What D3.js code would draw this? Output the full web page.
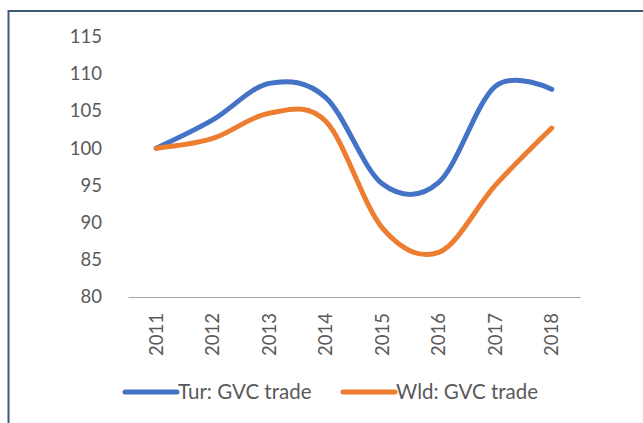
<!DOCTYPE html>
<html><head><meta charset="utf-8">
<script src="https://cdnjs.cloudflare.com/ajax/libs/d3/7.8.5/d3.min.js"></script>
<style>
html,body{margin:0;padding:0;background:#fff;}
svg{display:block;}
</style></head>
<body>
<script>
const years = ["2011","2012","2013","2014","2015","2016","2017","2018"];
const turValues = [100, 103.8, 108.7, 106.8, 95.2, 95.4, 108.3, 107.9];
const wldValues = [100, 101.3, 104.7, 103.6, 89.3, 86.0, 95.0, 102.7];
const yTicks = [80, 85, 90, 95, 100, 105, 110, 115];
const seriesNames = ["Tur: GVC trade", "Wld: GVC trade"];
const seriesColors = ["#4472C4", "#ED7D31"];

const W = 643, H = 423;
const svg = d3.select("body").append("svg").attr("width", W).attr("height", H);

// frame border (top and left visible)
svg.append("line").attr("x1", 8.5).attr("x2", W).attr("y1", 11).attr("y2", 11)
  .attr("stroke", "#3d5a73").attr("stroke-width", 2);
svg.append("line").attr("x1", 8.5).attr("x2", 8.5).attr("y1", 10).attr("y2", H)
  .attr("stroke", "#3d5a73").attr("stroke-width", 2);

const x = d3.scaleBand().domain(years).range([128, 580]);
const y = d3.scaleLinear().domain([80, 115]).range([297, 36.5]);
const font = "Lato, 'Open Sans', sans-serif";

// y tick labels
const yAxis = d3.axisLeft(y).tickValues(yTicks).tickSize(0).tickPadding(0);
const gy = svg.append("g").attr("transform", "translate(102,0)").call(yAxis);
gy.select(".domain").remove();
gy.selectAll("text").attr("font-family", font).attr("font-size", 18.5).attr("fill", "#595959");

// x axis
const xAxis = d3.axisBottom(x).tickSize(0).tickPadding(0);
const gx = svg.append("g").attr("transform", "translate(0,297)").call(xAxis);
gx.select(".domain").attr("stroke", "#a6a6a6").attr("stroke-width", 1.2);
gx.selectAll("text")
  .attr("font-family", font).attr("font-size", 18.5).attr("fill", "#595959")
  .attr("text-anchor", "end").attr("dy", "0.35em")
  .attr("transform", "translate(0,16) rotate(-90)").attr("y", 0).attr("x", 0);

// lines
const line = d3.line()
  .x((d, i) => x(years[i]) + x.bandwidth() / 2)
  .y(d => y(d))
  .curve(d3.curveCardinal.tension(0));

[turValues, wldValues].forEach((vals, k) => {
  svg.append("path").datum(vals).attr("d", line)
    .attr("fill", "none").attr("stroke", seriesColors[k])
    .attr("stroke-width", 5).attr("stroke-linecap", "round").attr("stroke-linejoin", "round");
});

// legend
const legX = [125, 343];
seriesNames.forEach((name, k) => {
  const g = svg.append("g").attr("transform", `translate(${legX[k]},392)`);
  g.append("line").attr("x1", 0).attr("x2", 52).attr("y1", 0).attr("y2", 0)
    .attr("stroke", seriesColors[k]).attr("stroke-width", 5).attr("stroke-linecap", "round");
  g.append("text").attr("x", 53).attr("y", 0).attr("dy", "0.35em")
    .attr("font-family", font).attr("font-size", 20.5).attr("fill", "#595959")
    .text(name);
});
</script>
</body></html>
